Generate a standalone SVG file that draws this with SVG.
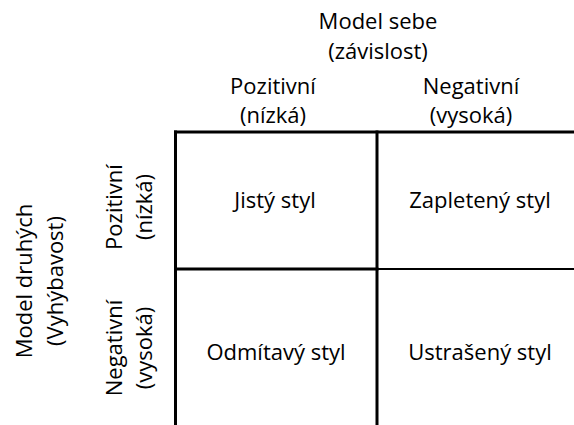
<svg xmlns="http://www.w3.org/2000/svg" width="574" height="425" viewBox="0 0 574 425">
  <style>
    text { font-family: "Open Sans", "Noto Sans", "Liberation Sans", sans-serif; font-size: 22px; fill: #000; text-anchor: middle; }
    .grid line { stroke: #000; stroke-width: 3; stroke-linecap: square; }
  </style>
  <rect width="574" height="425" fill="#fff"/>

  <!-- column headings -->
  <g id="header-self">
    <text x="378" y="29">Model sebe</text>
    <text x="378" y="59">(závislost)</text>
  </g>
  <g id="col-positive">
    <text x="273" y="94">Pozitivní</text>
    <text x="273" y="123">(nízká)</text>
  </g>
  <g id="col-negative">
    <text x="471" y="94">Negativní</text>
    <text x="471" y="123">(vysoká)</text>
  </g>

  <!-- row headings (rotated) -->
  <g id="header-others" transform="translate(0,281) rotate(-90)">
    <text x="0" y="32">Model druhých</text>
    <text x="0" y="63">(Vyhýbavost)</text>
  </g>
  <g id="row-positive" transform="translate(0,207) rotate(-90)">
    <text x="0" y="122">Pozitivní</text>
    <text x="0" y="152">(nízká)</text>
  </g>
  <g id="row-negative" transform="translate(0,348) rotate(-90)">
    <text x="0" y="122">Negativní</text>
    <text x="0" y="152">(vysoká)</text>
  </g>

  <!-- grid lines -->
  <g id="grid" class="grid">
    <line x1="175.5" y1="132" x2="574" y2="132"/>
    <line x1="175.5" y1="132" x2="175.5" y2="425"/>
    <line x1="377" y1="132" x2="377" y2="425"/>
    <line x1="175.5" y1="269" x2="377" y2="269"/>
    <line x1="377" y1="269" x2="574" y2="269" style="stroke-width:2"/>
  </g>

  <!-- quadrants -->
  <g id="secure">
    <text x="275" y="208">Jistý styl</text>
  </g>
  <g id="preoccupied">
    <text x="480" y="208">Zapletený styl</text>
  </g>
  <g id="dismissing">
    <text x="276" y="360">Odmítavý styl</text>
  </g>
  <g id="fearful">
    <text x="480" y="360">Ustrašený styl</text>
  </g>
</svg>
